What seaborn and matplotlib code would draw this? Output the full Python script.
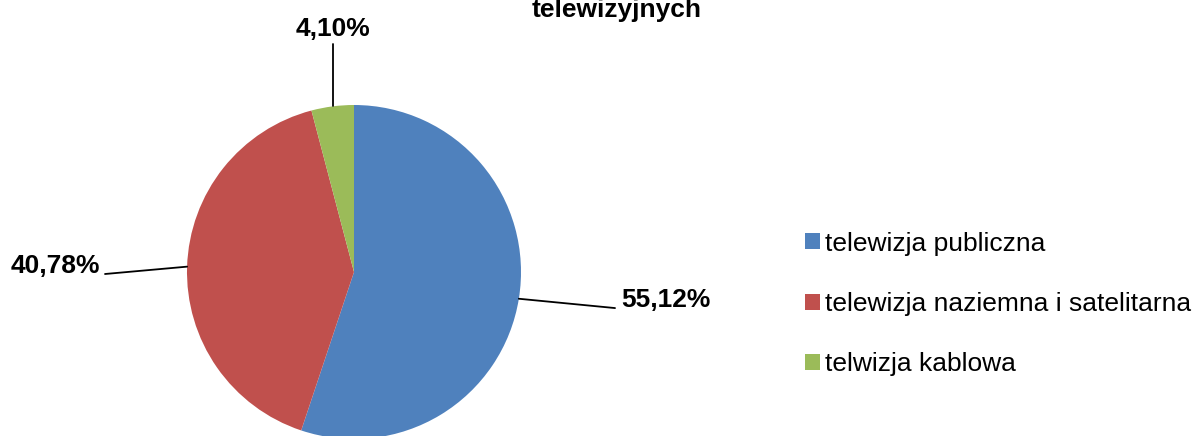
import numpy as np
import matplotlib
matplotlib.use("Agg")
import matplotlib.pyplot as plt
import seaborn as sns

# dane
categories = ["telewizja publiczna", "telewizja naziemna i satelitarna", "telwizja kablowa"]
shares = [55.12, 40.78, 4.10]
value_labels = ["55,12%", "40,78%", "4,10%"]
title_text = "telewizyjnych"

sns.set_theme(style="white")
plt.rcParams['font.family'] = ['Liberation Sans', 'DejaVu Sans']
plt.rcParams['text.color'] = 'black'

colors = ["#4F81BD", "#C0504D", "#9BBB59"]

W, H = 1194, 436
fig = plt.figure(figsize=(W / 100, H / 100), dpi=100)

# środek koła (354, 272) px, promień 167 px
cx, cy, r = 354, 272, 167
ax = fig.add_axes([(cx - r) / W, (H - cy - r) / H, 2 * r / W, 2 * r / H])
wedges, _ = ax.pie(shares, colors=colors, startangle=90, counterclock=False,
                   radius=1, wedgeprops=dict(linewidth=0))
ax.set_xlim(-1, 1)
ax.set_ylim(-1, 1)
ax.set_aspect("equal")
ax.axis("off")

# końce linii odniesienia i pozycje etykiet (w promieniach koła)
line_ends = [(1.563, -0.216), (-1.491, -0.012), (None, 1.365)]
text_pos = [(1.599, -0.165, "left"), (-1.52, 0.036, "right"), (None, 1.455, "center")]

for w, lab, le, tp in zip(wedges, value_labels, line_ends, text_pos):
    ang = np.deg2rad((w.theta1 + w.theta2) / 2)
    x0, y0 = np.cos(ang), np.sin(ang)
    ex = x0 if le[0] is None else le[0]
    ax.plot([x0, ex], [y0, le[1]], color="black", lw=1.3, clip_on=False)
    tx = ex if tp[0] is None else tp[0]
    ax.text(tx, tp[1], lab, ha=tp[2], va="center", fontsize=19,
            fontweight="bold", color="black", clip_on=False)

fig.text(617 / W, 1 - 17 / H, title_text, ha="center", va="baseline",
         fontsize=19, fontweight="bold", color="black")

leg = fig.legend(wedges, categories, loc="center left",
                 bbox_to_anchor=(805 / W, 1 - 304 / H), frameon=False,
                 fontsize=19, handlelength=0.55, handleheight=0.55,
                 handletextpad=0.22, labelspacing=1.38, borderpad=0,
                 borderaxespad=0)
for t in leg.get_texts():
    t.set_color("black")

fig.savefig("out.png", dpi=100)
